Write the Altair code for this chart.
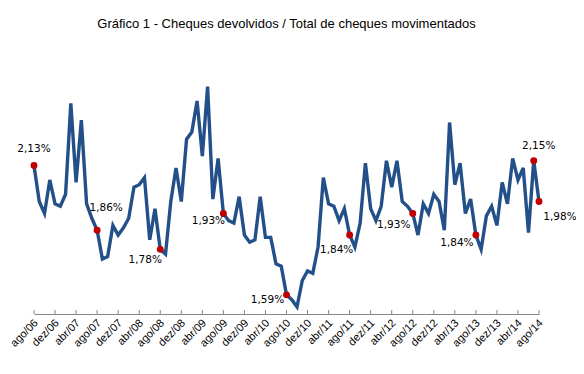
import altair as alt
import pandas as pd

# ---- data ----
month_abbr = ["jan", "fev", "mar", "abr", "mai", "jun", "jul", "ago", "set", "out", "nov", "dez"]
months = []
m, y = 7, 2006
for _ in range(97):
    months.append(f"{month_abbr[m]}/{str(y)[2:]}")
    m += 1
    if m == 12:
        m, y = 0, y + 1

values = [
    2.13, 1.98, 1.93, 2.07, 1.97, 1.96, 2.01, 2.39, 2.06, 2.32,
    1.97, 1.91, 1.86, 1.74, 1.75, 1.88, 1.84, 1.87, 1.91, 2.04,
    2.05, 2.08, 1.82, 1.95, 1.78, 1.76, 1.98, 2.12, 1.98, 2.24,
    2.27, 2.40, 2.17, 2.46, 1.99, 2.16, 1.93, 1.90, 1.89, 2.00,
    1.84, 1.81, 1.82, 2.00, 1.83, 1.83, 1.72, 1.71, 1.59, 1.57,
    1.54, 1.65, 1.69, 1.68, 1.79, 2.08, 1.97, 1.96, 1.90, 1.95,
    1.84, 1.79, 1.89, 2.14, 1.95, 1.90, 1.96, 2.15, 2.04, 2.15,
    1.98, 1.96, 1.93, 1.84, 1.97, 1.93, 2.01, 1.98, 1.86, 2.31,
    2.05, 2.14, 1.93, 1.99, 1.84, 1.78, 1.92, 1.96, 1.88, 2.06,
    1.97, 2.16, 2.07, 2.12, 1.85, 2.15, 1.98,
]

tick_labels = months[::4]

label_months = ["ago/06", "ago/07", "ago/08", "ago/09", "ago/10",
                "ago/11", "ago/12", "ago/13", "jul/14", "ago/14"]
label_texts = ["2,13%", "1,86%", "1,78%", "1,93%", "1,59%",
               "1,84%", "1,93%", "1,84%", "2,15%", "1,98%"]
# label offsets (dx, dy) in pixels
label_offsets = [(0, -17), (9, -22), (-15, 11), (-15, 8), (-19, 5.5),
                 (-13, 15), (-19, 11.5), (-19, 8), (5, -15), (21, 15.5)]

df = pd.DataFrame({"mes": months, "valor": values})
lab_df = pd.DataFrame({
    "mes": label_months,
    "valor": [values[months.index(mm)] for mm in label_months],
    "txt": label_texts,
})
tick_df = pd.DataFrame({"mes": tick_labels})

W, H = 505, 237
xscale = alt.Scale(type="point", padding=0, domain=months)
yscale = alt.Scale(domain=[1.51, 2.5], nice=False, zero=False)

x_enc = alt.X(
    "mes:O", sort=months, scale=xscale, title=None,
    axis=alt.Axis(
        values=tick_labels, labelAngle=-45, labelAlign="right", labelBaseline="middle",
        labelFont="Liberation Sans", labelFontSize=11, labelColor="#000000",
        labelPadding=7, labelOffset=2, tickSize=0, domainColor="#868686", domainWidth=1,
        labelOverlap=False, grid=False,
    ),
)
y_enc = alt.Y("valor:Q", scale=yscale, axis=None)

line = alt.Chart(df).mark_line(color="#24508A", strokeWidth=3.4).encode(x=x_enc, y=y_enc)

ticks = alt.Chart(tick_df).mark_rule(color="#868686", strokeWidth=1).encode(
    x=alt.X("mes:O", sort=months, scale=xscale),
    y=alt.value(H - 4), y2=alt.value(H),
)

dots = alt.Chart(lab_df).mark_circle(color="#C00000", opacity=1, size=48).encode(
    x=alt.X("mes:O", sort=months, scale=xscale), y=y_enc
)

texts = []
for mm, (dx, dy) in zip(label_months, label_offsets):
    texts.append(
        alt.Chart(lab_df).transform_filter(alt.datum.mes == mm)
        .mark_text(font="DejaVu Sans", fontSize=10.5, color="#000000",
                   align="center", baseline="middle", dx=dx, dy=dy)
        .encode(x=alt.X("mes:O", sort=months, scale=xscale), y=y_enc, text="txt:N")
    )

chart = alt.layer(ticks, line, dots, *texts).properties(
    width=W, height=H,
    title=alt.TitleParams(
        "Gráfico 1 - Cheques devolvidos  / Total de cheques movimentados",
        font="Liberation Sans", fontSize=13, fontWeight="normal", color="#000000",
        anchor="middle", baseline="alphabetic", offset=36.5,
    ),
    autosize=alt.AutoSizeParams(type="none"),
    padding={"left": 26, "top": 69, "right": 37, "bottom": 52},
).configure_view(stroke=None)

chart.save("out.html", embed_options={"renderer": "svg", "actions": False})
